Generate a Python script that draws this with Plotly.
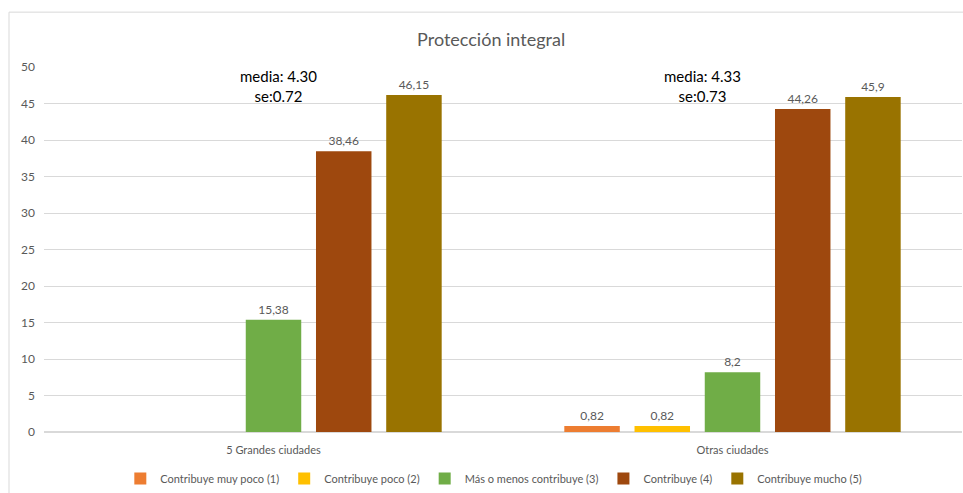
import plotly.graph_objects as go

categories = ["5 Grandes ciudades", "Otras ciudades"]
series_names = ["Contribuye muy poco (1)", "Contribuye poco (2)", "Más o menos contribuye (3)",
                "Contribuye (4)", "Contribuye mucho (5)"]
values = [
    [None, 0.82],
    [None, 0.82],
    [15.38, 8.2],
    [38.46, 44.26],
    [46.15, 45.9],
]
colors = ["#ED7D31", "#FFC000", "#70AD47", "#9E480E", "#997300"]
notes = ["media: 4.30<br>se:0.72", "media: 4.33<br>se:0.73"]
y_ticks = list(range(0, 51, 5))

FONT = "Lato"
GRAY = "#595959"

fig = go.Figure()
for name, vals, col in zip(series_names, values, colors):
    txt = ["" if v is None else (f"{v:g}".replace(".", ",")) for v in vals]
    fig.add_trace(go.Bar(
        x=categories, y=vals, name=name, marker=dict(color=col, line=dict(width=0)),
        text=txt, textposition="outside", cliponaxis=False,
        textfont=dict(family=FONT, size=12, color=GRAY),
    ))

W, H = 963, 493
ml, mr, mt, mb = 44, 1, 67, 60
pw, ph = W - ml - mr, H - mt - mb

fig.update_layout(
    width=W, height=H,
    margin=dict(l=ml, r=mr, t=mt, b=mb),
    paper_bgcolor="white", plot_bgcolor="white",
    barmode="group", bargap=0.235, bargroupgap=0.21,
    font=dict(family=FONT, color=GRAY),
    title=dict(text="Protección integral", x=0.51, xanchor="center", y=1 - 40 / H, yanchor="middle",
               font=dict(family=FONT, size=18, color=GRAY)),
    showlegend=True,
    legend=dict(orientation="h", x=0.49, xanchor="center", y=-(479 - 433) / ph, yanchor="middle",
                font=dict(family=FONT, size=11, color=GRAY), itemwidth=30, traceorder="normal",
                itemclick=False),
)
fig.update_xaxes(showgrid=False, showline=False, ticks="", ticklabelstandoff=10,
                 tickfont=dict(family=FONT, size=11, color=GRAY))
fig.update_yaxes(range=[0, 50], tickvals=y_ticks, showgrid=True, gridcolor="#D9D9D9", gridwidth=1,
                 zeroline=True, zerolinecolor="#D9D9D9", showline=False, ticks="",
                 tickfont=dict(family=FONT, size=12, color=GRAY), ticklabelstandoff=8)

shifts = [5, -30]
for cat, note, sh in zip(categories, notes, shifts):
    fig.add_annotation(x=cat, xref="x", xshift=sh,
                       y=50, yref="y", yshift=-19, text=note, showarrow=False,
                       font=dict(family=FONT, size=15, color="#000000"), align="center",
                       yanchor="middle")

# outer chart border
fig.add_shape(type="rect", xref="paper", yref="paper",
              x0=(9 - ml) / pw, x1=(W + 5 - ml) / pw,
              y0=-(mb + 5) / ph, y1=1 + (mt - 12) / ph,
              line=dict(color="#D9D9D9", width=1), fillcolor="rgba(0,0,0,0)", layer="below")

fig.write_html("out.html")
